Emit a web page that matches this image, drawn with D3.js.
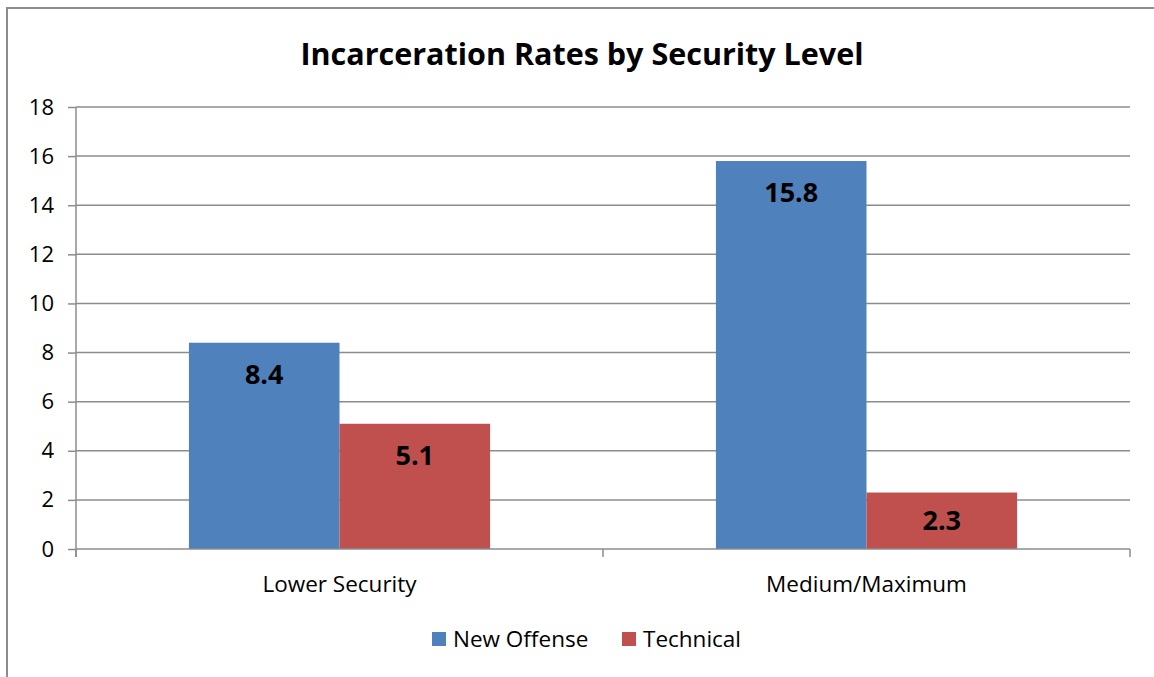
<!DOCTYPE html>
<html><head><meta charset="utf-8">
<script src="https://cdn.jsdelivr.net/npm/d3@7/dist/d3.min.js"></script>
<style>body{margin:0;background:#fff;}svg{display:block;font-family:"Open Sans",sans-serif;}</style>
</head><body>
<svg id="c" width="1154" height="677"></svg>
<script>
const categories = ["Lower Security", "Medium/Maximum"];
const seriesNames = ["New Offense", "Technical"];
const newOffense = [8.4, 15.8];
const technical = [5.1, 2.3];
const yTicks = [0, 2, 4, 6, 8, 10, 12, 14, 16, 18];
const colors = ["#4F81BD", "#C0504D"];
const title = "Incarceration Rates by Security Level";

const svg = d3.select("#c");
const L = 76, R = 1130, T = 107, B = 549;
const grid = "#8c8c8c";

svg.append("rect").attr("x", 7).attr("y", 8).attr("width", 1160).attr("height", 700)
  .attr("fill", "none").attr("stroke", "#8c8c8c").attr("stroke-width", 2);

svg.append("text").attr("x", 582).attr("y", 65).attr("text-anchor", "middle")
  .attr("font-size", 30.5).attr("font-weight", "bold").attr("fill", "#000").text(title);

const y = d3.scaleLinear().domain([0, 18]).range([B, T]);
const x0 = d3.scaleBand().domain(categories).range([L, R]);
const x1 = d3.scaleBand().domain(seriesNames).range([0, x0.bandwidth()]).paddingInner(0).paddingOuter(0.75);

// gridlines
svg.append("g").selectAll("line").data(yTicks.filter(d => d > 0)).join("line")
  .attr("x1", L).attr("x2", R).attr("y1", d => y(d)).attr("y2", d => y(d))
  .attr("stroke", grid).attr("stroke-width", 1.5);

// y axis
const yAxis = svg.append("g").attr("transform", `translate(${L},0)`)
  .call(d3.axisLeft(y).tickValues(yTicks).tickSize(8).tickPadding(14));
yAxis.select(".domain").remove();
yAxis.selectAll(".tick line").attr("stroke", grid).attr("stroke-width", 1.5);
yAxis.selectAll(".tick text").attr("font-size", 22).attr("fill", "#000").attr("font-family", "Open Sans");
svg.append("line").attr("x1", L).attr("x2", L).attr("y1", T).attr("y2", B + 8)
  .attr("stroke", grid).attr("stroke-width", 1.5);

// bars
const data = categories.map((c, i) => ({ c, vals: [newOffense[i], technical[i]] }));
const g = svg.append("g").selectAll("g").data(data).join("g")
  .attr("transform", d => `translate(${x0(d.c)},0)`);
g.selectAll("rect").data(d => d.vals.map((v, j) => ({ v, s: seriesNames[j], j }))).join("rect")
  .attr("x", d => x1(d.s)).attr("width", x1.bandwidth())
  .attr("y", d => y(d.v)).attr("height", d => B - y(d.v))
  .attr("fill", d => colors[d.j]);
g.selectAll("text.lbl").data(d => d.vals.map((v, j) => ({ v, s: seriesNames[j], j }))).join("text")
  .attr("class", "lbl")
  .attr("x", d => x1(d.s) + x1.bandwidth() / 2)
  .attr("y", d => Math.min(y(d.v) + 41, (y(d.v) + B) / 2 + 9.5))
  .attr("text-anchor", "middle").attr("font-size", 27).attr("font-weight", "bold").attr("fill", "#000")
  .text(d => d.v.toFixed(1));

// x axis
svg.append("line").attr("x1", L).attr("x2", R).attr("y1", B).attr("y2", B)
  .attr("stroke", grid).attr("stroke-width", 1.5);
const xt = [L, ...categories.map(c => x0(c) + x0.bandwidth())];
svg.append("g").selectAll("line").data(xt).join("line")
  .attr("x1", d => d).attr("x2", d => d).attr("y1", B).attr("y2", B + 8)
  .attr("stroke", grid).attr("stroke-width", 1.5);
svg.append("g").selectAll("text").data(categories).join("text")
  .attr("x", c => x0(c) + x0.bandwidth() / 2).attr("y", 592)
  .attr("text-anchor", "middle").attr("font-size", 22.5).attr("fill", "#000").text(c => c);

// legend
const leg = [{ n: seriesNames[0], x: 432, c: colors[0] }, { n: seriesNames[1], x: 622, c: colors[1] }];
const lg = svg.append("g").selectAll("g").data(leg).join("g");
lg.append("rect").attr("x", d => d.x).attr("y", 632).attr("width", 14).attr("height", 14).attr("fill", d => d.c);
lg.append("text").attr("x", d => d.x + 21).attr("y", 647).attr("font-size", 22.5).attr("fill", "#000").text(d => d.n);
</script>
</body></html>
